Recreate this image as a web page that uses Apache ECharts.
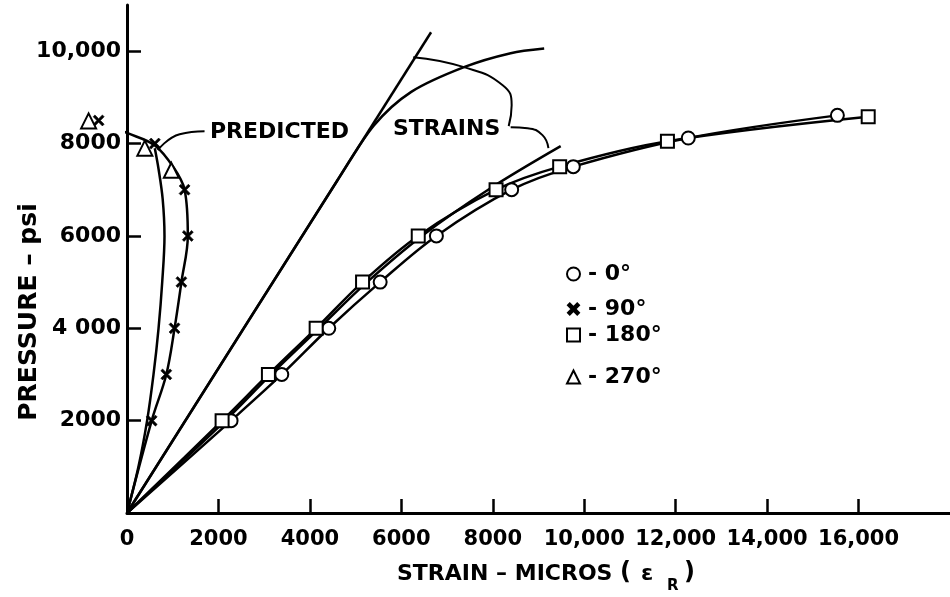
<!DOCTYPE html>
<html>
<head>
<meta charset="utf-8">
<script src="https://cdn.jsdelivr.net/npm/echarts@6/dist/echarts.min.js"></script>
<style>html,body{margin:0;padding:0;background:#fff}#c{width:950px;height:597px}</style>
</head>
<body>
<div id="c"></div>
<script>
// ---- tick values and labels ----
const xTicks = [0, 2000, 4000, 6000, 8000, 10000, 12000, 14000, 16000];
const xTickLabels = ['0', '2000', '4000', '6000', '8000', '10,000', '12,000', '14,000', '16,000'];
const yTicks = [2000, 4000, 6000, 8000, 10000];
const yTickLabels = ['2000', '4 000', '6000', '8000', '10,000'];

// ---- measured points (strain in micros, pressure in psi) ----
const strain0 = [2276, 3385, 4413, 5537, 6767, 8413, 9761, 12276, 15537];
const press0  = [2000, 3000, 4000, 5000, 6000, 7000, 7500, 8120, 8610];
const strain180 = [2080, 3093, 4137, 5152, 6370, 8072, 9463, 11820, 16211];
const press180  = [2000, 3000, 4000, 5000, 6000, 7000, 7500, 8050, 8580];
const strain90 = [540, 860, 1040, 1190, 1330, 1260, 610, -620];
const press90  = [2000, 3000, 4000, 5000, 6000, 7000, 8000, 8500];
const strain270 = [970, 390, -840];
const press270  = [7420, 7900, 8490];

// ---- faired curve through 90/270 data ----
const fit90Strain = [0, 540, 860, 1040, 1190, 1330, 1260, 1020, 610, 0, -660];
const fit90Press  = [0, 2000, 3000, 4000, 5000, 6000, 7000, 7480, 7960, 8230, 8500];

// ---- predicted strains ----
const predStraightStrain = [0, 6650];
const predStraightPress  = [0, 10410];
const predUpperStrain = [0, 4600, 5400, 6217, 7385, 8391, 9124];
const predUpperPress  = [0, 7200, 8390, 9119, 9660, 9957, 10058];
const predLeftStrain = [0, 250, 440, 580, 690, 770, 820, 780, 690, 608];
const predLeftPress  = [0, 1000, 2000, 3000, 4000, 5000, 6000, 6800, 7450, 7900];
const predLowerStrain = [0, 2150, 3150, 4200, 5250, 6450, 7900, 9485];
const predLowerPress  = [0, 2000, 3000, 4000, 5000, 6000, 7000, 7943];

// ---- annotation leader lines (data units) ----
const leadAStrain = [1696, 1152, 674];
const leadAPress  = [8268, 8203, 7857];
const leadBStrain = [6261, 7370, 8217, 8413, 8348];
const leadBPress  = [9870, 9654, 9264, 8831, 8377];
const leadCStrain = [8391, 8761, 9087, 9217];
const leadCPress  = [8355, 8333, 8182, 7900];

const zip = (a, b) => a.map((v, i) => [v, b[i]]);
const withOrigin = (a, b) => [[0, 0]].concat(zip(a, b));

const FONT = 'DejaVu Sans';
const INK = '#000';
const xMarker = 'path://M0,1.6 L1.6,0 L5,3.4 L8.4,0 L10,1.6 L6.6,5 L10,8.4 L8.4,10 L5,6.6 L1.6,10 L0,8.4 L3.4,5 Z';

function lineSeries(data, width, smooth) {
  return {
    type: 'line', data: data, showSymbol: false, symbol: 'none', smooth: smooth,
    clip: false, silent: true, z: 2,
    lineStyle: { color: INK, width: width, opacity: 1 }
  };
}
function markSeries(name, data, symbol, size, bw) {
  return {
    name: name, type: 'scatter', data: data, symbol: symbol, symbolSize: size,
    clip: false, z: 5, silent: true,
    itemStyle: { color: INK, borderColor: INK, borderWidth: bw, opacity: 1 }
  };
}

const chart = echarts.init(document.getElementById('c'), null, { renderer: 'canvas' });

const legendTops = [258, 292, 319, 361];
const legendNames = ['0°', '90°', '180°', '270°'];
const legendIconSize = [13, 11, 13, 13];

chart.setOption({
  animation: false,
  backgroundColor: '#fff',
  grid: { left: 127, right: -5, top: 5, bottom: 84, containLabel: false },
  xAxis: {
    type: 'value', min: 0, max: 18000, interval: 2000,
    axisLine: { show: true, onZero: false, lineStyle: { color: INK, width: 3 } },
    axisTick: { show: true, inside: true, length: 14, customValues: xTicks.slice(1), lineStyle: { color: INK, width: 2.5 } },
    axisLabel: {
      customValues: xTicks, margin: 16, color: INK, fontFamily: FONT, fontWeight: 'bold', fontSize: 21,
      formatter: v => { const i = xTicks.indexOf(v); return i >= 0 ? xTickLabels[i] : ''; }
    },
    splitLine: { show: false }
  },
  yAxis: {
    type: 'value', min: 0, max: 11000, interval: 2000,
    axisLine: { show: true, onZero: false, lineStyle: { color: INK, width: 3 } },
    axisTick: { show: true, inside: true, length: 14, customValues: yTicks, lineStyle: { color: INK, width: 2.5 } },
    axisLabel: {
      customValues: yTicks, margin: 6, color: INK, fontFamily: FONT, fontWeight: 'bold', fontSize: 22,
      formatter: v => { const i = yTicks.indexOf(v); return i >= 0 ? yTickLabels[i] : ''; }
    },
    splitLine: { show: false }
  },
  legend: legendNames.map((n, i) => ({
    data: [n], left: 561 + (13 - legendIconSize[i]) / 2, top: legendTops[i] + (13 - legendIconSize[i]) / 2, selectedMode: false,
    itemWidth: legendIconSize[i], itemHeight: legendIconSize[i], itemGap: 0,
    textStyle: { color: INK, fontFamily: FONT, fontWeight: 'bold', fontSize: 22, padding: [0, 0, 0, 3 + (13 - legendIconSize[i]) / 2] },
    formatter: name => '- ' + name
  })),
  series: [
    lineSeries(withOrigin(strain0, press0), 2.5, 0.35),
    lineSeries(withOrigin(strain180, press180), 2.5, 0.35),
    lineSeries(zip(fit90Strain, fit90Press), 2.5, 0.35),
    lineSeries(zip(predStraightStrain, predStraightPress), 2.5, false),
    lineSeries(zip(predUpperStrain, predUpperPress), 2.5, 0.3),
    lineSeries(zip(predLeftStrain, predLeftPress), 2.5, 0.35),
    lineSeries(zip(predLowerStrain, predLowerPress), 2.5, 0.35),
    lineSeries(zip(leadAStrain, leadAPress), 2, 0.5),
    lineSeries(zip(leadBStrain, leadBPress), 2, 0.5),
    lineSeries(zip(leadCStrain, leadCPress), 2, 0.5),
    markSeries('0°', zip(strain0, press0), 'emptyCircle', 13, 2.5),
    markSeries('90°', zip(strain90, press90), xMarker, 11, 0.6),
    markSeries('180°', zip(strain180, press180), 'emptyRect', 13, 2.5),
    markSeries('270°', zip(strain270, press270), 'emptyTriangle', 15, 2.5)
  ],
  graphic: [
    { type: 'text', left: 210, top: 121, style: { text: 'PREDICTED', fill: INK, font: 'bold 22px "DejaVu Sans"' } },
    { type: 'text', left: 393, top: 118, style: { text: 'STRAINS', fill: INK, font: 'bold 22px "DejaVu Sans"' } },
    { type: 'text', left: 397, top: 563, style: { text: 'STRAIN – MICROS', fill: INK, font: 'bold 22px "DejaVu Sans"' } },
    { type: 'text', left: 620, top: 561, style: { text: '(', fill: INK, font: 'bold 24px "DejaVu Sans"' } },
    { type: 'text', left: 641, top: 563, style: { text: 'ε', fill: INK, font: 'bold 22px "DejaVu Sans"' } },
    { type: 'text', left: 667, top: 579, style: { text: 'R', fill: INK, font: 'bold 15px "DejaVu Sans"' } },
    { type: 'text', left: 684, top: 561, style: { text: ')', fill: INK, font: 'bold 24px "DejaVu Sans"' } },
    { type: 'text', x: 29, y: 312, rotation: Math.PI / 2, style: { text: 'PRESSURE – psi', fill: INK, font: 'bold 25px "DejaVu Sans"', align: 'center', verticalAlign: 'middle' } }
  ]
});
</script>
</body>
</html>
